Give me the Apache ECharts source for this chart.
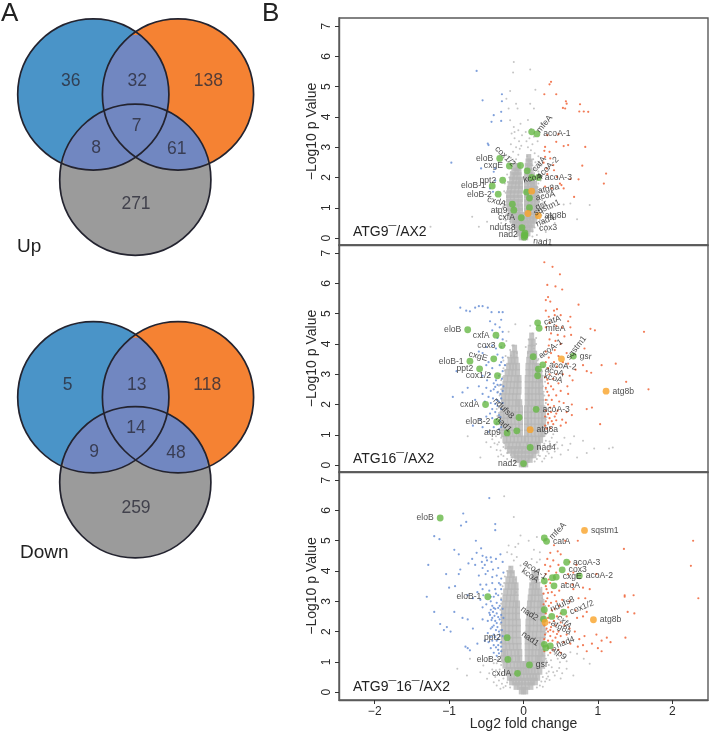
<!DOCTYPE html>
<html><head><meta charset="utf-8">
<style>html,body{margin:0;padding:0;background:#fff}#c{width:709px;height:732px}</style>
<script src="https://cdn.jsdelivr.net/npm/echarts@6/dist/echarts.min.js"></script>
</head><body><div id="c"></div>
<script>
const xTicks=[-2,-1,0,1,2];
const yTicks=[0,1,2,3,4,5,6,7];
const panelNames=['ATG9¯/AX2','ATG16¯/AX2','ATG9¯16¯/AX2'];
const orangeGenes=['atg8a','atg8b','sqstm1'];

// Venn diagrams (circle centres and radius in page-like units)
const vennUpCircles=[[93.3,94.5],[178,94.5],[135.3,179.7]];
const vennDownCircles=[[93.3,397.3],[178,397.3],[135.3,482.3]];
const vennRadius=75.6;
const vennUpCounts=[[70.7,81,36],[137.3,81,32],[208.3,81,138],[136.7,126,7],[96,147.7,8],[176.7,149,61],[136,204.3,271]];
const vennDownCounts=[[67.7,385,5],[136.7,385,13],[207.3,385,118],[136,428.3,14],[94,451.7,9],[176,452.7,48],[136,507.7,259]];

// Highlighted genes [name, log2FC, -log10p]
const genes1=[['mfeA',.11,3.51],['acoA-1',.18,3.44],['eloB',-.32,2.63],['cox1/2',-.04,2.4],['cxgE',-.19,2.38],['catA',.05,2.22],['acoA-2',.11,2],['acoA-3',.2,2],['ppt2',-.28,1.91],['eloB-1',-.42,1.72],['eloB-2',-.34,1.45],['kcoA',.04,1.52],['atg8a',.11,1.55],['acoA',.08,1.32],['gsr',.08,1],['cxdA',-.15,1.12],['atp9',-.13,.92],['sqstm1',.06,.81],['atg8b',.2,.74],['cxfA',-.03,.67],['ndufs8',-.02,.34],['nad4',.02,.16],['cox3',.02,.08],['nad1',.01,.03],['nad2',.01,.1]];
const genes2=[['catA',.19,4.7],['mfeA',.21,4.52],['eloB',-.75,4.47],['cxfA',-.37,4.29],['cox3',-.29,3.95],['acoA-1',.13,3.58],['sqstm1',.51,3.51],['gsr',.67,3.6],['cxgE',-.4,3.51],['eloB-1',-.72,3.43],['ppt2',-.59,3.18],['acoA-2',.26,3.31],['acoA',.2,3.17],['kcoA',.19,2.95],['cox1/2',-.35,2.95],['atg8b',1.11,2.44],['cxdA',-.51,2],['acoA-3',.17,1.84],['ndufs8',-.06,1.57],['eloB-2',-.36,1.43],['nad1',-.09,1.13],['atg8a',.09,1.17],['atp9',-.22,1.06],['nad4',.09,.58],['nad2',0,.05]];
const genes3=[['eloB',-1.12,5.75],['mfeA',.28,5.09],['catA',.31,4.98],['sqstm1',.82,5.34],['acoA-3',.58,4.29],['cox3',.52,4.04],['acoA-2',.75,3.84],['cxgE',.44,3.8],['acoA-1',.39,3.78],['kcoA',.28,3.67],['acoA',.41,3.51],['eloB-1',-.48,3.15],['ndufs8',.28,2.72],['cox1/2',.54,2.64],['cxfA',.38,2.5],['atg8b',.94,2.39],['nad2',.27,2.41],['atg8a',.29,2.3],['ppt2',-.22,1.8],['nad1',.28,1.58],['nad4',.36,1.53],['atp9',.3,1.46],['eloB-2',-.21,1.08],['gsr',.08,.9],['cxdA',-.08,.62]];

// Dense grey cloud, read row by row: [y, x, x, ...]
const core1=[[.05,-.03,0,.03],[.18,-.06,-.02,.02,.06],[.32,-.09,-.05,-.01,.03,.07,.1],[.46,-.12,-.08,-.04,0,.04,.08,.12],[.6,-.15,-.1,-.06,-.02,.03,.07,.11,.15],[.74,-.16,-.11,-.07,-.03,.03,.07,.11,.16],[.88,-.18,-.13,-.08,-.04,.04,.08,.12,.17],[1.02,-.19,-.14,-.09,-.04,.04,.08,.13,.17],[1.16,-.2,-.15,-.1,-.05,.04,.09,.13,.18],[1.3,-.2,-.15,-.1,-.04,.04,.09,.13,.18],[1.45,-.2,-.15,-.1,-.05,.04,.08,.13,.17],[1.6,-.19,-.14,-.09,-.04,.04,.08,.13,.16],[1.75,-.18,-.13,-.08,-.04,.04,.08,.12,.15],[1.9,-.16,-.12,-.07,-.04,.04,.08,.12],[2.05,-.15,-.11,-.06,.04,.08,.12],[2.2,-.13,-.09,-.06,.05,.09],[2.35,-.11,-.07,.05,.08],[2.5,.06,.09],[2.65,.07]];
const core2=[[.05,-.03,0,.03],[.2,-.09,-.05,0,.05,.09],[.35,-.14,-.1,-.05,0,.05,.1,.14],[.5,-.19,-.14,-.09,-.04,0,.05,.1,.14,.18],[.65,-.22,-.17,-.12,-.07,-.03,.03,.07,.12,.17,.2],[.85,-.25,-.2,-.15,-.1,-.05,0,.04,.09,.14,.19,.23],[1.05,-.27,-.22,-.17,-.12,-.07,-.04,.04,.08,.13,.18,.23,.26],[1.25,-.28,-.23,-.18,-.13,-.08,-.04,.04,.08,.13,.18,.23,.26],[1.45,-.29,-.24,-.19,-.14,-.09,-.04,.04,.08,.13,.18,.23,.27],[1.65,-.29,-.24,-.19,-.14,-.09,-.04,.04,.08,.13,.18,.23,.27],[1.85,-.28,-.23,-.18,-.13,-.08,-.04,.04,.08,.13,.18,.22,.26],[2.05,-.27,-.22,-.17,-.12,-.08,-.05,.05,.09,.14,.19,.24],[2.25,-.27,-.22,-.17,-.12,-.07,.05,.09,.14,.19,.24],[2.45,-.26,-.21,-.16,-.11,-.06,.05,.09,.14,.19,.23],[2.65,-.25,-.2,-.15,-.1,-.06,.05,.1,.14,.19,.23],[2.85,-.24,-.19,-.14,-.09,-.06,.05,.1,.15,.2,.23],[3.05,-.22,-.17,-.13,-.08,.06,.1,.15,.19,.22],[3.25,-.2,-.16,-.12,-.08,.06,.1,.15,.18],[3.45,-.18,-.14,-.1,.07,.11,.15],[3.65,-.15,-.11,.08,.12,.15],[3.85,-.12,.09,.13],[4.05,.1,.13],[4.25,.11]];
const core3=[[.05,-.03,0,.03],[.2,-.1,-.05,0,.05,.1],[.35,-.16,-.12,-.08,-.04,0,.04,.09,.12,.16],[.5,-.19,-.15,-.1,-.06,-.02,.03,.07,.11,.15,.19],[.7,-.22,-.18,-.13,-.09,-.05,-.02,.02,.05,.09,.13,.17,.22],[.9,-.25,-.2,-.15,-.1,-.06,-.02,.02,.05,.1,.15,.19,.24],[1.1,-.27,-.23,-.18,-.13,-.08,-.05,.05,.09,.14,.19,.21,.26],[1.3,-.27,-.24,-.19,-.14,-.09,-.05,.05,.1,.14,.19,.23,.26],[1.5,-.26,-.21,-.16,-.11,-.06,.05,.1,.15,.2,.24],[1.7,-.27,-.22,-.17,-.12,-.06,.05,.1,.15,.2,.25],[1.9,-.27,-.22,-.17,-.12,-.07,.05,.1,.15,.2,.26],[2.1,-.27,-.22,-.17,-.12,-.07,.06,.1,.16,.21,.26],[2.3,-.27,-.22,-.17,-.12,-.07,.06,.11,.16,.21,.26],[2.5,-.27,-.22,-.17,-.12,-.08,.07,.11,.16,.21,.26],[2.7,-.27,-.22,-.17,-.12,-.08,.07,.12,.17,.22,.26],[2.9,-.26,-.21,-.16,-.11,-.08,.08,.12,.17,.22,.25],[3.1,-.25,-.2,-.15,-.1,.09,.13,.18,.23],[3.3,-.24,-.19,-.14,-.1,.1,.14,.18,.22],[3.5,-.22,-.18,-.13,-.1,.11,.15,.19],[3.7,-.21,-.16,-.12,.13,.17],[3.9,-.19,-.15,.14,.17],[4.05,-.17]];

// Sparse grey points
const grey1=[[-.13,5.82],[.09,5.57],[-.14,5.47],[-.18,4.86],[.16,4.9],[-.23,4.6],[-.1,4.44],[-.2,4.28],[.09,4.44],[-.08,4.28],[.14,4.28],[-.18,3.89],[-.13,3.67],[-.04,3.78],[-.07,3.56],[-.16,3.45],[-.02,3.4],[-.12,3.3],[-.06,3.2],[-.17,3.1],[-.1,3],[-.03,3.05],[-.14,2.85],[-.07,2.75],[-.17,2.65],[-.1,2.6],[.06,3.9],[.1,3.6],[.04,3.2],[.12,3.1],[.06,3],[.1,2.9],[.15,2.8],[.05,2.7],[.13,2.6],[.19,3.2],[.2,2.7],[.16,2.5],[.24,2.4],[.2,2.2],[.23,1.9],[.22,1.6],[.26,1.4],[.28,1.15],[.25,.9],[.22,.6],[.63,1.14],[.89,1.09],[.54,1.11],[.72,.62],[.35,.75],[.42,.5],[.3,.4],[.38,1],[.3,.2],[.18,.1],[-.49,.54],[-.69,.7],[-.6,.37],[-1.25,.37],[-.35,.9],[-.28,1],[-.25,1.2],[-.3,.5],[-.22,.3],[-.38,.3],[-.26,.7],[-.24,1.5],[-.25,1.8],[-.22,2.1],[-.16,2.3],[-.2,.15],[.12,.05],[-.12,.05],[-.23,.95],[-.22,1.35],[-.24,1.1],[-.21,1.62],[-.21,1.85],[-.19,2],[-.17,2.18],[-.18,.55],[-.2,.8],[-.15,.28],[-.13,.4],[.18,.5],[.2,.72],[.2,.95],[.21,1.2],[.2,1.42],[.19,1.68],[.17,1.88],[.15,2.02],[.13,2.22],[.12,2.4],[.12,.22],[.15,.35],[.23,1.05],[.24,.75],[.16,2.3],[-.14,2.45],[-.12,2.52],[-.09,2.45],[.1,2.55],[-.26,1.55],[-.27,1.05],[-.29,.82],[-.31,.62],[-.25,.42],[-.19,.25],[-.24,.58],[-.23,.78],[.22,.32],[.26,.55],[.29,.68],[.27,1],[.25,1.25],[.24,1.55],[.2,1.8],[.19,2.08],[-.12,3.5],[-.05,2.95],[.03,3.5],[.08,3.3],[.14,3.35]];
const grey2=[[-.11,4.65],[-.25,3.95],[-.2,4.4],[-.23,4.1],[-.18,3.8],[-.13,3.95],[-.09,3.7],[-.24,3.6],[-.2,3.35],[-.27,3.2],[-.3,2.8],[-.32,2.3],[-.33,1.9],[-.32,1.5],[-.32,1.2],[-.3,.9],[-.27,.6],[-.33,.75],[-.36,.5],[-.44,.6],[-.22,.4],[-.3,.35],[-.15,.25],[-.42,.85],[-.5,.75],[-.58,.25],[-.75,.95],[.09,4.6],[.12,4.35],[.07,4.15],[.17,4.2],[.03,3.9],[.12,3.95],[.06,3.7],[.16,3.75],[.2,3.5],[.24,2.8],[.28,2.3],[.3,1.9],[.3,1.5],[.29,1.2],[.27,.95],[.3,.8],[.22,.55],[.33,.6],[.38,.9],[.45,.75],[.42,.45],[.3,.3],[.18,.2],[.52,.65],[.6,.5],[.63,.7],[.72,.25],[.85,.4],[.95,.55],[1.15,.55],[1.2,.58],[.8,.8],[.68,.95],[.55,.9],[.38,.25],[.25,.12],[-.31,1.05],[-.33,1.35],[-.31,1.6],[-.33,1.72],[-.32,2.05],[-.3,2.2],[-.3,2.5],[-.29,2.65],[-.28,2.9],[-.25,3.12],[-.24,3.3],[-.21,3.55],[-.17,3.62],[-.13,3.75],[-.1,3.55],[-.15,3.95],[-.26,.72],[-.24,.55],[-.2,.42],[-.17,.33],[-.13,.15],[.28,.7],[.3,1.02],[.3,1.3],[.31,1.58],[.29,1.75],[.3,2.05],[.27,2.15],[.27,2.42],[.26,2.6],[.26,2.95],[.25,3.1],[.22,3.32],[.19,3.45],[.17,3.68],[.14,3.85],[.17,4],[.15,.12],[.2,.32],[.26,.48],[-.35,1.1],[-.37,.95],[-.35,.68],[-.39,.72],[-.31,.48],[-.27,.3],[-.34,.28],[-.22,.2],[-.18,.12],[-.36,1.35],[-.35,1.62],[-.36,1.85],[-.35,2.15],[-.34,2.42],[-.33,2.62],[-.31,3],[-.27,3.45],[.33,1.1],[.35,.78],[.37,.62],[.32,.45],[.34,.38],[.28,.22],[.22,.3],[.33,1.35],[.33,1.7],[.32,2.15],[.3,2.5],[.29,2.75],[.27,3.25],[.23,3.6],[.46,.55],[.4,1.02],[.5,.35],[.43,.68]];
const grey3=[[-.26,6.47],[-.13,5.78],[-.04,5.17],[.07,5],[.18,5.12],[.22,4.62],[-.2,4.84],[-.11,4.79],[-.22,4.62],[-.09,4.46],[-.13,4.35],[.11,4.4],[.18,4.29],[.22,4.38],[-.04,4.18],[-.18,4.13],[.16,3.96],[.2,3.85],[.63,1.32],[.72,1.27],[.89,.94],[.81,1.1],[.49,.99],[.58,.77],[.67,.55],[.4,.66],[.31,.44],[.22,.22],[-.89,.77],[-.76,.55],[-.58,.66],[-.49,.44],[-.4,.33],[-.45,1.1],[-.54,.88],[-.36,.22],[-.31,.11],[-.72,1.1],[-.3,.9],[-.33,.6],[-.27,.45],[-.25,.7],[-.3,1.2],[-.24,.2],[-.18,.15],[.18,.15],[.26,.5],[.28,.8],[.3,1.1],[.34,.9],[.45,.7],[.35,.4],[.5,.45],[.55,1.15],[.42,1.25],[.29,3.6],[.25,3.1],[.28,2.2],[.29,1.8],[-.16,4.55],[-.07,4.9],[.14,4.7],[-.3,3.1],[-.28,3.5],[-.28,1.05],[-.29,1.35],[-.31,1.62],[-.31,1.85],[-.31,2.05],[-.31,2.25],[-.3,2.48],[-.31,2.72],[-.3,2.92],[-.29,3.25],[-.26,3.6],[-.25,3.82],[-.22,4],[-.14,3.95],[-.11,3.72],[-.1,3.3],[-.22,.95],[-.2,.6],[-.17,.42],[-.13,.28],[.13,.28],[.17,.42],[.2,.62],[.22,.82],[.25,1.02],[.26,1.22],[.28,1.42],[.28,1.62],[.3,1.95],[.3,2.05],[.3,2.35],[.29,2.62],[.29,2.85],[.27,3.05],[.26,3.25],[.24,3.45],[.22,3.62],[.2,3.72],[.12,3.8],[.1,3.55],[.09,3.72],[-.33,1.1],[-.36,.95],[-.32,.75],[-.37,.72],[-.29,.62],[-.33,.38],[-.29,.28],[-.22,.32],[-.27,.15],[-.34,1.4],[-.35,1.05],[.31,.62],[.33,.52],[.29,.35],[.24,.35],[.26,.18],[.34,.68],[.37,1.05],[.33,1.22],[.31,1.02],[.38,.82],[.42,.55],[-.42,.75],[-.4,.95],[-.46,.62],[-.38,.5],[.48,.8],[.52,.62],[.58,1.02],[.46,1.1]];

// Significantly down (blue)
const blue1=[[-.63,5.52],[-.55,4.55],[-.29,4.75],[-.29,4.52],[-.4,4.06],[-.3,4.17],[-.43,3.84],[-.3,3.87],[-.48,3.12],[-.47,3.07],[-.97,2.49],[-.57,2.3],[-.38,2.3],[-.4,2.19],[-.38,1.9],[-.45,1.64],[-.41,1.53]];
const blue2=[[-.85,5.2],[-.77,5.1],[-.72,5.08],[-.65,5.2],[-.6,5.25],[-.55,5.25],[-.48,5.2],[-.43,5.05],[-.33,5.05],[-.28,5.05],[-.45,4.75],[-.38,4.65],[-.32,4.55],[-.3,4.8],[-.28,4.4],[-.42,4.45],[-.35,4.2],[-.28,4.15],[-.3,3.9],[-.37,3.85],[-.42,3.95],[-.5,3.9],[-.55,3.7],[-.6,3.75],[-.35,3.65],[-.28,3.55],[-.47,3.4],[-.32,3.3],[-.3,3.4],[-.25,3.3],[-.42,3.2],[-.5,3.3],[-.28,3.1],[-.45,3],[-.55,2.95],[-.29,2.85],[-.4,2.7],[-.49,2.8],[-.35,2.65],[-.27,2.6],[-.5,2.55],[-.6,2.6],[-.44,2.45],[-.4,2.5],[-.35,2.4],[-.31,2.35],[-.28,2.45],[-.55,2.35],[-.65,2.15],[-.47,2.25],[-.41,2.2],[-.36,2.15],[-.3,2.2],[-.28,2.05],[-.35,1.95],[-.42,1.85],[-.45,1.7],[-.38,1.75],[-.33,1.65],[-.3,1.85],[-.5,1.6],[-.58,1.5],[-.42,1.55],[-.32,1.45],[-.3,1.25],[-.4,1.25],[-.47,1.1],[-.55,1.25],[-.68,1.3],[-.95,2.25],[-.75,2.55],[-.82,2.4],[-.9,3.1],[-.33,2.95],[-.37,2.8],[-.31,2.65],[-.38,2.58],[-.33,2.1],[-.38,2.02],[-.31,1.58],[-.36,1.38],[-.33,1.18],[-.44,2.05],[-.52,2.1]];
const blue3=[[-.46,6.41],[-.81,5.9],[-.84,5.5],[-.77,5.62],[-.38,5.55],[-.38,5.35],[-1.2,5.15],[-1.13,5.05],[-.64,5],[-.57,4.75],[-.93,4.7],[-.63,4.6],[-.87,4.55],[-.69,4.4],[-.55,4.5],[-.5,4.45],[-.56,4.3],[-.52,4.2],[-.49,4.35],[-.43,4.3],[-.44,4.45],[-.37,4.4],[-.31,4.55],[-.28,4.3],[-.34,4.1],[-.41,4.05],[-.48,4],[-.55,4.1],[-.65,4.2],[-.74,4.25],[-.85,4.05],[-.87,3.9],[-1.28,4.2],[-.6,3.85],[-.51,3.9],[-.42,3.8],[-.36,3.85],[-.3,3.75],[-.27,3.95],[-.33,3.6],[-.42,3.6],[-.5,3.55],[-.58,3.55],[-1.04,3.9],[-1,3.45],[-.92,3.5],[-.62,3.3],[-.55,3.4],[-.46,3.35],[-.38,3.4],[-.3,3.4],[-.34,3.2],[-.4,3.15],[-.54,3.2],[-.58,3.05],[-.68,3.1],[-.75,3.2],[-1.3,3.15],[-.3,3.05],[-.36,2.95],[-.44,3],[-.5,2.9],[-.55,2.8],[-.42,2.85],[-.38,2.75],[-.32,2.85],[-.28,2.75],[-.41,2.65],[-.45,2.55],[-.36,2.6],[-.3,2.55],[-.42,2.45],[-.38,2.35],[-.32,2.4],[-.27,2.45],[-.48,2.35],[-.55,2.4],[-.4,2.2],[-.35,2.15],[-.3,2.3],[-.44,2.1],[-.29,2.05],[-.37,2.05],[-.48,1.95],[-.32,1.9],[-.28,1.85],[-.4,1.9],[-.42,1.7],[-.36,1.7],[-.3,1.65],[-.34,1.55],[-.4,1.55],[-.47,1.65],[-.52,1.7],[-.44,1.45],[-.34,1.4],[-.3,1.35],[-.4,1.3],[-.36,1.2],[-.75,1.45],[-.78,1.5],[-.72,1.38],[-.98,2],[-1.07,2.05],[-1.12,2.25],[-.82,2.45],[-.75,2.4],[-1.03,2.15],[-.93,2.65],[-1.2,2.65],[-.68,2.1],[-.62,1.6],[-.44,2.72],[-.4,2.78],[-.34,2.78],[-.46,2.62],[-.39,2.52],[-.34,2.48],[-.43,2.38],[-.36,2.28],[-.42,2.15],[-.33,2],[-.38,1.82],[-.34,1.75],[-.44,1.82],[-.3,1.5],[-.37,1.48],[-.33,1.28],[-.44,3.15],[-.37,3.25],[-.31,3.55]];

// Significantly up (orange)
const orange1=[[.37,5.16],[.35,5.08],[.28,4.75],[.44,4.75],[.57,4.52],[.58,4.44],[.53,4.3],[.56,4.28],[.76,4.42],[.75,4.18],[.81,4.18],[.87,4.17],[.32,3.4],[.47,3.43],[.44,3.18],[.54,3.04],[.6,3.07],[.83,3.01],[.29,3.01],[.28,2.88],[.35,2.85],[.29,2.68],[.36,2.63],[.27,2.49],[.4,2.41],[.79,2.39],[.31,2.3],[.41,2.24],[.32,2.11],[1.11,2.13],[.49,1.8],[.51,1.75],[.54,1.64],[.63,1.95],[.74,1.94],[1.08,1.8],[.38,1.64],[.68,1.36],[.45,2.02],[.29,1.7]];
const orange2=[[.28,6.7],[.39,6.55],[.49,6.3],[.43,5.9],[.52,5.8],[.32,5.95],[.33,5.55],[.3,5.45],[.36,5.4],[.74,5.3],[.41,5.1],[.45,5.15],[.3,5.1],[.34,4.9],[.42,4.95],[.5,4.95],[.63,4.9],[.6,4.75],[.35,4.7],[.44,4.6],[.52,4.55],[.3,4.55],[.63,4.55],[.9,4.5],[.96,4.45],[1.62,4.4],[.37,4.35],[.46,4.3],[.55,4.25],[.64,4.3],[.35,4.15],[.43,4.1],[.34,3.95],[.5,4],[.82,3.85],[.42,3.8],[.3,3.75],[.37,3.7],[.58,3.7],[.47,3.6],[.34,3.55],[.3,3.4],[.41,3.4],[.53,3.4],[.6,3.35],[.8,3.3],[1.05,3.3],[1.24,3.35],[.33,3.2],[.45,3.25],[.7,3.15],[.85,3.1],[.91,3.05],[.35,3],[.44,3],[.53,3],[.62,2.95],[.29,2.9],[.4,2.85],[.66,2.8],[.33,2.7],[.47,2.7],[.59,2.6],[1.38,2.75],[1.68,2.5],[.3,2.55],[.4,2.5],[.5,2.45],[.34,2.3],[.44,2.3],[.6,2.35],[.3,2.15],[.38,2.15],[.48,2.1],[.54,2.05],[.65,2],[.85,1.85],[.92,1.9],[.33,2],[.41,1.95],[.3,1.8],[.37,1.75],[.46,1.8],[.58,1.75],[.65,1.65],[.29,1.6],[.35,1.55],[.42,1.6],[.52,1.5],[.33,1.4],[.4,1.35],[.29,1.3],[.5,1.3],[.57,1.4],[1.03,1.35],[.32,2.42],[.37,2.6],[.32,2.82],[.36,1.9],[.33,1.68],[.38,1.45],[.31,1.2],[.36,1.22],[.44,1.48],[.44,1.7]];
const orange3=[[.98,3.9],[2.28,5],[1.35,4.73],[.73,5],[.56,5],[.41,4.85],[.46,4.65],[.36,4.6],[.5,4.55],[.32,4.4],[.4,4.35],[.47,4.2],[.29,4.2],[.36,4.15],[.62,4.3],[.71,4.2],[.67,3.95],[2.25,4.17],[.34,4],[.44,3.95],[.6,3.9],[.3,3.9],[.36,3.6],[.57,3.6],[.66,3.55],[.31,3.4],[.38,3.3],[.48,3.35],[.67,3.4],[.8,3.45],[.89,3.4],[1.36,3.2],[1.36,3.15],[2.35,3.1],[.27,3.25],[.32,3.1],[.42,3.2],[.3,3],[.37,2.95],[.44,3],[.52,3.05],[.62,3],[.74,3.1],[.83,3.1],[1.48,3.2],[.34,2.85],[.42,2.75],[.27,2.9],[.48,2.85],[.6,2.8],[.7,2.7],[.85,2.65],[1.4,2.65],[1.49,2.6],[.3,2.6],[.45,2.5],[.5,2.6],[.58,2.5],[.72,2.45],[.8,2.5],[.28,2.2],[.37,2.15],[.43,2.2],[.5,2.3],[.35,2.3],[.55,2.2],[.62,2.1],[.69,2],[.33,2],[.4,2],[.47,2],[.29,1.9],[.36,1.85],[.43,1.8],[.5,1.85],[.58,1.9],[.75,1.75],[.82,1.85],[.98,1.9],[1.12,1.8],[1.37,1.8],[.28,1.75],[.33,1.7],[.39,1.7],[.46,1.65],[.54,1.65],[.63,1.6],[.8,1.55],[.92,1.6],[1.05,1.7],[1.17,1.65],[.28,1.35],[.4,1.4],[.47,1.4],[.5,1.3],[.36,1.3],[.73,1.5],[1,1.45],[1.05,1.35],[.85,1.35],[.33,2.45],[.38,2.7],[.33,3.28],[.3,3.5],[.34,3.72],[.36,2.05],[.31,2.1],[.41,2.35],[.45,1.92],[.33,1.45]];

// Label placement of the gene names: side + rotation
const place1={mfeA:'r50','acoA-1':'r0',eloB:'l0','cox1/2':'l-45',cxgE:'l0',catA:'r50','acoA-2':'r45','acoA-3':'r0',ppt2:'l0','eloB-1':'l0','eloB-2':'l0',kcoA:'t12',atg8a:'r12',acoA:'r12',gsr:'r25',cxdA:'l-15',atp9:'l0',sqstm1:'r25',atg8b:'r0',cxfA:'l0',ndufs8:'l0',nad2:'l0',nad4:'R22',cox3:'R3',nad1:'D-5'};
const place2={catA:'r15',mfeA:'r0',eloB:'l0',cxfA:'l0',cox3:'l0','acoA-1':'r35',sqstm1:'r52',gsr:'r-5',cxgE:'l-15','eloB-1':'l0',ppt2:'l0','acoA-2':'r-5',acoA:'r-15',kcoA:'r-15','cox1/2':'l0',atg8b:'r0',cxdA:'l0','acoA-3':'r0',ndufs8:'l-45','eloB-2':'l0',nad1:'l-45',atg8a:'r0',atp9:'l0',nad4:'r0',nad2:'l0'};
const place3={eloB:'l0',mfeA:'r45',catA:'r0',sqstm1:'r0','acoA-3':'r0',cox3:'r0','acoA-2':'r0',cxgE:'r0','acoA-1':'l-35',kcoA:'l-35',acoA:'r0','eloB-1':'l0',ndufs8:'r25','cox1/2':'r22',cxfA:'r-42',atg8b:'r0',nad2:'l-35',atg8a:'r-28',ppt2:'l0',nad1:'l-35',nad4:'r22',atp9:'r-38','eloB-2':'l0',gsr:'r0',cxdA:'l0'};

const FONT='"Liberation Sans",Arial,sans-serif';
const C={blue:'#4a94c8',orange:'#f58233',grey:'#9b9b9b',overlap:'#7187c1',ink:'#2b2b38',frame:'#5a5a5a',cloud:'#b6b6b6',dotBlue:'#5f88d2',dotOrange:'#ef5a2c',green:'#66b846',amber:'#f9a228'};

function lensPoints(a,b,r){
  const pts=[],n=90;
  const mx=(a[0]+b[0])/2,my=(a[1]+b[1])/2;
  for(const [p,q] of [[a,b],[b,a]]){
    for(let i=0;i<n;i++){
      const t=i/n*2*Math.PI,x=p[0]+r*Math.cos(t),y=p[1]+r*Math.sin(t);
      if(Math.hypot(x-q[0],y-q[1])<=r)pts.push([x,y]);
    }
  }
  pts.sort((u,v)=>Math.atan2(u[1]-my,u[0]-mx)-Math.atan2(v[1]-my,v[0]-mx));
  return pts;
}
function vennSeries(circles,counts){
  const fills=[C.blue,C.orange,C.grey];
  const pairs=[[0,1],[0,2],[1,2]];
  const base={type:'custom',coordinateSystem:'cartesian2d',xAxisIndex:0,yAxisIndex:0,silent:true,clip:false,encode:{x:0,y:1}};
  return [
    Object.assign({},base,{z:1,data:circles.map((c,i)=>[c[0],c[1],i]),renderItem:(p,api)=>{
      const o=api.coord([api.value(0),api.value(1)]);
      return {type:'circle',shape:{cx:o[0],cy:o[1],r:api.size([vennRadius,0])[0]},style:{fill:fills[api.value(2)]}};
    }}),
    Object.assign({},base,{z:2,data:pairs,renderItem:(p,api)=>{
      const ps=lensPoints(circles[api.value(0)],circles[api.value(1)],vennRadius).map(q=>api.coord(q));
      return {type:'polygon',shape:{points:ps},style:{fill:C.overlap}};
    }}),
    Object.assign({},base,{z:3,data:circles.map(c=>[c[0],c[1]]),renderItem:(p,api)=>{
      const o=api.coord([api.value(0),api.value(1)]);
      return {type:'circle',shape:{cx:o[0],cy:o[1],r:api.size([vennRadius,0])[0]},style:{fill:'none',stroke:'#23232f',lineWidth:1.7}};
    }}),
    {type:'scatter',xAxisIndex:0,yAxisIndex:0,z:4,silent:true,symbolSize:0,data:counts,
      label:{show:true,position:'inside',formatter:d=>String(d.value[2]),fontFamily:FONT,fontSize:17.5,color:C.ink}}
  ];
}
function rows(core){const out=[];core.forEach(r=>{for(let i=1;i<r.length;i++)out.push([r[i],r[0]]);});return out;}
function labelFor(p){
  const s=p[0],rot=+p.slice(1);
  if(s==='r')return {position:'right',distance:3,rotate:rot};
  if(s==='l')return {position:'left',distance:3,rotate:rot};
  if(s==='t')return {position:'right',distance:-4,rotate:rot,offset:[0,-12]};
  if(s==='R')return {position:'right',distance:5,rotate:rot,offset:[6,-7]};
  return {position:'right',distance:5,rotate:rot,offset:[1,4]};
}
function panelSeries(i,core,grey,blue,orange,genes,place){
  const ax={xAxisIndex:i+1,yAxisIndex:i+1,silent:true,type:'scatter',animation:false};
  return [
    Object.assign({},ax,{z:2,data:rows(core),symbol:'rect',symbolSize:[5,7.6],itemStyle:{color:C.cloud}}),
    Object.assign({},ax,{z:2,data:grey,symbolSize:2,itemStyle:{color:C.cloud}}),
    Object.assign({},ax,{z:3,data:blue,symbolSize:2.2,itemStyle:{color:C.dotBlue}}),
    Object.assign({},ax,{z:3,data:orange,symbolSize:2.2,itemStyle:{color:C.dotOrange}}),
    Object.assign({},ax,{z:5,symbolSize:6.8,data:genes.map(g=>({
      name:g[0],value:[g[1],g[2]],
      itemStyle:{color:orangeGenes.includes(g[0])?C.amber:C.green},
      label:Object.assign({show:true,formatter:g[0],fontFamily:FONT,fontSize:8.6,color:'#222'},labelFor(place[g[0]]))
    }))})
  ];
}
const panelTops=[18,245,472],panelHeights=[227,227,228],yMins=[-.23,-.23,-.26],yMaxs=[7.27,7.27,7.27];
const tickFmt=v=>String(v).replace('-','−');
const grid=[{left:0,top:0,width:260,height:580,show:false,outerBoundsMode:'none'}];
const xAxis=[{gridIndex:0,type:'value',min:0,max:260,show:false}];
const yAxis=[{gridIndex:0,type:'value',min:0,max:580,inverse:true,show:false}];
panelTops.forEach((t,i)=>{
  grid.push({left:339,top:t,width:369,height:panelHeights[i],show:true,borderColor:C.frame,borderWidth:1.4,backgroundColor:'#fff',outerBoundsMode:'none'});
  const last=i===2;
  xAxis.push({gridIndex:i+1,type:'value',min:-2.48,max:2.48,splitLine:{show:false},
    axisLine:{show:true,onZero:false,lineStyle:{color:C.frame,width:1.4}},
    axisTick:{show:last,length:4,customValues:xTicks,lineStyle:{color:'#333'}},
    axisLabel:{show:last,customValues:xTicks,formatter:tickFmt,fontFamily:FONT,fontSize:12,color:'#2a2a2a',margin:6},
    name:last?'Log2 fold change':'',nameLocation:'middle',nameGap:17,nameMoveOverlap:false,nameTextStyle:{fontFamily:FONT,fontSize:14,color:'#2a2a2a'}});
  yAxis.push({gridIndex:i+1,type:'value',min:yMins[i],max:yMaxs[i],splitLine:{show:false},
    axisLine:{show:true,onZero:false,lineStyle:{color:C.frame,width:1.4}},
    axisTick:{show:true,length:4,customValues:yTicks,lineStyle:{color:'#333'}},
    axisLabel:{customValues:yTicks,rotate:90,fontFamily:FONT,fontSize:12,color:'#2a2a2a',margin:6,formatter:tickFmt},
    name:'−Log10 p Value',nameLocation:'middle',nameRotate:90,nameGap:20,nameMoveOverlap:false,nameTextStyle:{fontFamily:FONT,fontSize:14,color:'#2a2a2a'}});
});
const ts=(s)=>({fontFamily:FONT,fontWeight:'normal',fontSize:s,color:'#222'});
const title=[
  {text:'A',left:1,top:1,padding:0,textStyle:ts(26)},
  {text:'B',left:262,top:1,padding:0,textStyle:ts(26)},
  {text:'Up',left:17,top:237.5,padding:0,textStyle:ts(19)},
  {text:'Down',left:20,top:543.5,padding:0,textStyle:ts(19)},
  {text:panelNames[0],left:353,top:225,padding:0,textStyle:ts(14)},
  {text:panelNames[1],left:353,top:452,padding:0,textStyle:ts(14)},
  {text:panelNames[2],left:353,top:680,padding:0,textStyle:ts(14)}
];
const series=[].concat(
  vennSeries(vennUpCircles,vennUpCounts),
  vennSeries(vennDownCircles,vennDownCounts),
  panelSeries(0,core1,grey1,blue1,orange1,genes1,place1),
  panelSeries(1,core2,grey2,blue2,orange2,genes2,place2),
  panelSeries(2,core3,grey3,blue3,orange3,genes3,place3)
);
const chart=echarts.init(document.getElementById('c'),null,{renderer:'canvas'});
chart.setOption({animation:false,backgroundColor:'#fff',title,grid,xAxis,yAxis,series});
</script></body></html>
